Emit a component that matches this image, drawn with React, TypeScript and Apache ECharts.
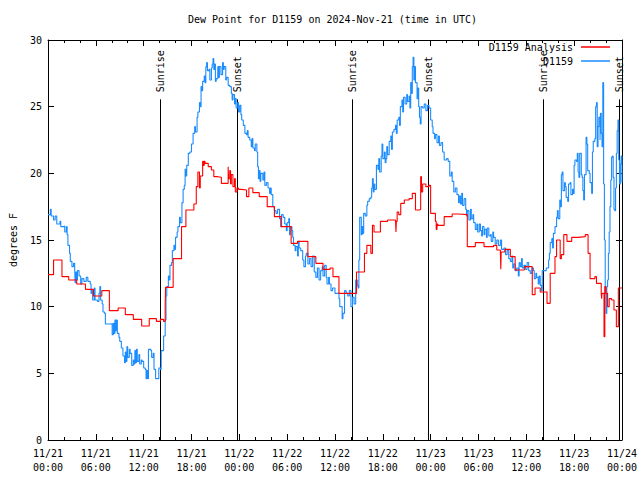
import React, { useEffect, useRef } from "react";
import * as echarts from "echarts";

// hours since 2024-11-21 00:00 UTC
const xTickLabels = [
  "11/21\n00:00", "11/21\n06:00", "11/21\n12:00", "11/21\n18:00",
  "11/22\n00:00", "11/22\n06:00", "11/22\n12:00", "11/22\n18:00",
  "11/23\n00:00", "11/23\n06:00", "11/23\n12:00", "11/23\n18:00",
  "11/24\n00:00",
];

const sunTimes = [14.04, 23.66, 38.09, 47.66, 62.04, 71.59];
const sunLabels = ["Sunrise", "Sunset", "Sunrise", "Sunset", "Sunrise", "Sunset"];
const sunLineTop = 25.55;

const analysis: number[][] = [
  [0, 12.4], [0.7, 13.5], [1.75, 12.25], [2.6, 12.0], [3.6, 11.7], [4.7, 11.3],
  [5.7, 10.8], [6.75, 11.2], [7.7, 9.7], [8.8, 9.9], [9.7, 9.4], [10.7, 9.05],
  [11.75, 8.55], [12.7, 9.1], [13.6, 8.9], [14.1, 9.05], [14.5, 8.9], [14.7, 10.2],
  [14.75, 11.45], [15.7, 13.6], [16.75, 16.0], [17.3, 17.25], [18.3, 17.7],
  [18.6, 19.0], [18.8, 20.1], [19.0, 18.9], [19.1, 19.8], [19.4, 20.9], [19.5, 20.6],
  [19.6, 20.9], [19.7, 20.75], [20.1, 20.5], [20.5, 20.25], [20.8, 19.75],
  [21.3, 19.7], [21.75, 19.25], [22.6, 20.5], [22.65, 19.6], [22.8, 20.2],
  [22.9, 19.2], [23.0, 19.9], [23.2, 19.0], [23.4, 19.6], [23.5, 18.6], [23.7, 18.9],
  [23.9, 18.8], [24.25, 18.75], [24.9, 18.25], [25.2, 18.9], [25.7, 18.55],
  [26.5, 18.25], [27.5, 17.5], [28.4, 16.75], [29.25, 16.0], [30.5, 14.75],
  [31.3, 14.9], [32.6, 13.75], [33.6, 13.25], [34.5, 12.8], [35.4, 12.9],
  [35.75, 12.25], [36.5, 11.0], [37.6, 11.0], [38.7, 12.6], [39.7, 14.0],
  [40.0, 14.6], [40.5, 14.0], [40.7, 16.1], [40.9, 15.6], [41.7, 16.4], [42.6, 16.5],
  [43.6, 16.4], [43.65, 15.6], [43.7, 16.4], [43.8, 17.1], [44.0, 16.9],
  [44.25, 17.75], [44.7, 18.0], [45.3, 18.1], [45.7, 18.5], [46.1, 17.25],
  [46.6, 17.3], [46.75, 19.75], [46.85, 18.6], [47.0, 19.2], [47.4, 19.0],
  [47.8, 19.1], [48.0, 17.0], [48.6, 16.4], [48.7, 15.8], [48.8, 16.2], [48.9, 16.1],
  [49.7, 16.75], [50.7, 16.95], [51.5, 16.9], [52.6, 14.5], [53.6, 14.8],
  [54.7, 14.5], [55.9, 14.6], [56.3, 14.25], [56.75, 14.1], [56.8, 12.8],
  [56.85, 14.1], [57.3, 14.3], [58.0, 13.75], [58.6, 12.75], [59.75, 13.0],
  [60.75, 10.9], [61.1, 11.4], [61.75, 11.1], [62.6, 10.25], [63.0, 12.5],
  [63.6, 13.75], [63.8, 15.0], [64.25, 13.6], [64.4, 13.9], [64.7, 15.4],
  [65.1, 14.9], [65.7, 15.2], [66.5, 15.25], [67.4, 15.4], [67.75, 14.0],
  [68.0, 12.1], [68.6, 12.25], [68.8, 11.75], [69.4, 11.0], [69.45, 10.6],
  [69.5, 11.0], [69.75, 7.75], [69.85, 11.5], [70.0, 11.0], [70.2, 10.0],
  [70.4, 10.6], [70.7, 10.5], [71.0, 9.75], [71.3, 8.5], [71.55, 11.4], [72.0, 11.4],
];

const observed: number[][] = [
  [0, 16.9], [0.3, 17.3], [0.4, 16.8], [0.7, 16.5], [0.9, 16.8], [1.1, 16.2], [1.5, 16.4],
  [1.6, 16.0], [2.0, 16.05], [2.1, 15.6], [2.3, 16.0], [2.4, 15.4], [2.5, 14.6], [2.7, 14.0],
  [2.8, 13.4], [3.0, 13.0], [3.2, 13.25], [3.35, 12.8], [3.4, 11.8], [3.5, 12.6], [3.6, 12.0],
  [3.7, 12.7], [3.9, 12.3], [4.1, 11.7], [4.25, 12.1], [4.5, 11.9], [4.8, 12.2], [5.0, 11.9],
  [5.3, 11.7], [5.4, 11.0], [5.5, 11.2], [5.6, 10.5], [5.8, 11.4], [5.9, 10.5], [6.2, 10.4],
  [6.4, 11.0], [6.5, 11.5], [6.6, 10.5], [6.8, 10.2], [6.9, 9.6], [7.1, 9.5], [7.2, 8.7],
  [7.6, 8.7], [8.0, 8.75], [8.05, 7.9], [8.2, 8.75], [8.3, 8.0], [8.4, 9.0], [8.5, 8.2],
  [8.6, 9.0], [8.7, 8.0], [8.9, 7.7], [9.0, 7.4], [9.2, 6.9], [9.4, 6.3], [9.6, 5.8],
  [9.7, 6.6], [9.8, 5.9], [9.9, 7.0], [10.0, 6.2], [10.2, 6.8], [10.3, 6.5], [10.5, 5.6],
  [10.7, 6.0], [10.8, 5.7], [10.9, 6.7], [11.0, 5.8], [11.1, 6.8], [11.2, 5.9], [11.4, 6.4],
  [11.5, 5.7], [11.7, 6.0], [11.8, 5.9], [12.0, 5.4], [12.2, 5.3], [12.3, 4.6], [12.4, 5.2],
  [12.5, 4.6], [12.6, 6.8], [12.9, 6.7], [13.0, 6.2], [13.2, 6.5], [13.3, 5.3], [13.5, 4.6],
  [13.8, 4.6], [13.9, 5.4], [14.1, 5.3], [14.2, 6.7], [14.5, 7.8], [14.7, 9.0], [14.8, 10.8],
  [14.9, 11.5], [15.1, 12.3], [15.2, 12.0], [15.3, 13.1], [15.5, 13.3], [15.6, 14.2],
  [15.8, 14.6], [15.9, 14.3], [16.0, 15.2], [16.2, 15.6], [16.3, 16.0], [16.5, 16.7],
  [16.6, 16.3], [16.8, 17.8], [16.95, 18.8], [17.1, 19.1], [17.2, 20.3], [17.3, 19.8],
  [17.4, 20.6], [17.6, 21.5], [17.8, 21.6], [18.0, 22.2], [18.2, 23.0], [18.4, 23.5],
  [18.5, 23.1], [18.7, 24.2], [18.8, 24.6], [19.0, 25.3], [19.1, 25.0], [19.2, 26.5],
  [19.3, 26.2], [19.4, 26.9], [19.6, 27.3], [19.7, 26.8], [19.8, 28.0], [19.9, 28.3],
  [20.0, 27.7], [20.2, 27.8], [20.3, 27.0], [20.5, 27.9], [20.6, 28.2], [20.7, 28.6],
  [20.8, 27.8], [20.9, 28.2], [21.0, 26.9], [21.1, 27.1], [21.3, 28.0], [21.4, 27.2],
  [21.5, 28.0], [21.7, 27.4], [21.9, 28.3], [22.0, 27.8], [22.1, 28.0], [22.3, 27.0],
  [22.4, 27.2], [22.6, 26.6], [22.8, 26.5], [23.0, 26.0], [23.1, 25.5], [23.2, 25.9],
  [23.4, 25.2], [23.5, 25.6], [23.6, 24.9], [23.8, 25.3], [23.9, 24.6], [24.05, 25.1],
  [24.2, 24.4], [24.3, 24.0], [24.5, 23.6], [24.7, 23.0], [24.9, 22.9], [25.0, 23.2],
  [25.1, 22.7], [25.3, 22.5], [25.5, 22.0], [25.6, 22.6], [25.7, 21.9], [25.9, 21.7],
  [26.0, 22.2], [26.2, 21.6], [26.3, 20.5], [26.4, 19.6], [26.5, 20.2], [26.6, 19.4],
  [26.7, 20.0], [26.95, 19.5], [27.1, 20.1], [27.2, 19.1], [27.4, 19.3], [27.6, 18.9],
  [27.8, 18.5], [27.9, 18.9], [28.0, 18.4], [28.2, 17.5], [28.4, 17.2], [28.6, 17.0],
  [28.8, 17.3], [29.05, 16.6], [29.2, 16.0], [29.3, 16.9], [29.5, 16.7], [29.7, 16.2],
  [29.9, 15.7], [30.0, 16.3], [30.2, 16.6], [30.3, 15.4], [30.4, 16.0], [30.6, 15.7],
  [30.7, 15.2], [30.8, 14.6], [31.0, 14.2], [31.1, 14.5], [31.3, 13.8], [31.4, 14.9],
  [31.5, 14.4], [31.7, 14.2], [31.95, 13.5], [32.1, 13.0], [32.3, 13.8], [32.4, 14.0],
  [32.6, 13.2], [32.8, 13.6], [33.0, 13.0], [33.2, 13.8], [33.4, 12.6], [33.6, 12.2],
  [33.8, 12.9], [34.0, 12.0], [34.2, 12.7], [34.4, 13.0], [34.5, 12.3], [34.7, 13.1],
  [34.9, 12.2], [35.0, 11.7], [35.2, 12.2], [35.3, 11.7], [35.5, 11.2], [35.7, 11.4],
  [36.0, 11.0], [36.4, 11.0], [36.5, 10.6], [36.6, 10.0], [36.75, 10.0], [36.9, 9.1],
  [37.0, 9.5], [37.2, 11.2], [37.4, 11.0], [37.6, 10.8], [37.8, 11.2], [38.0, 10.0],
  [38.2, 10.7], [38.4, 10.2], [38.6, 12.0], [38.8, 11.6], [38.9, 11.4], [39.0, 13.5],
  [39.1, 16.7], [39.3, 15.4], [39.4, 16.0], [39.5, 15.5], [39.6, 17.0], [39.8, 16.8],
  [40.0, 17.6], [40.1, 17.9], [40.3, 18.1], [40.5, 18.2], [40.6, 18.9], [40.7, 19.6],
  [40.8, 18.6], [40.9, 19.2], [41.0, 18.8], [41.2, 20.6], [41.4, 20.3], [41.5, 21.1],
  [41.6, 20.1], [41.8, 21.3], [41.9, 22.2], [42.0, 21.1], [42.2, 21.6], [42.3, 20.8],
  [42.4, 21.1], [42.5, 22.0], [42.6, 21.4], [42.8, 22.4], [43.0, 22.8], [43.1, 21.8],
  [43.2, 23.1], [43.4, 23.3], [43.6, 23.6], [43.7, 23.0], [43.8, 24.0], [44.0, 24.2],
  [44.1, 23.6], [44.2, 25.0], [44.4, 25.5], [44.5, 24.6], [44.6, 25.7], [44.8, 25.2],
  [45.0, 25.9], [45.1, 25.4], [45.3, 25.8], [45.4, 24.9], [45.5, 26.8], [45.6, 26.0],
  [45.7, 28.0], [45.8, 28.7], [45.9, 27.0], [46.0, 28.0], [46.1, 26.8], [46.3, 25.6],
  [46.4, 26.4], [46.5, 25.0], [46.6, 24.2], [46.7, 23.7], [46.8, 25.0], [47.0, 24.9],
  [47.2, 25.2], [47.4, 24.7], [47.6, 25.1], [47.8, 24.9], [48.0, 24.0], [48.2, 23.5],
  [48.3, 23.0], [48.5, 22.6], [48.6, 22.9], [48.8, 22.3], [49.0, 22.8], [49.1, 22.1],
  [49.3, 22.3], [49.5, 21.6], [49.7, 21.0], [50.0, 21.1], [50.2, 20.9], [50.4, 19.8],
  [50.6, 20.1], [50.7, 19.4], [50.9, 18.6], [51.1, 18.9], [51.3, 18.4], [51.5, 17.8],
  [51.6, 18.3], [51.75, 17.7], [51.9, 18.5], [52.0, 17.6], [52.2, 18.1], [52.4, 17.3],
  [52.5, 16.8], [52.6, 17.2], [52.8, 16.5], [53.0, 17.3], [53.1, 16.6], [53.3, 16.9],
  [53.4, 16.3], [53.6, 15.8], [53.8, 16.2], [53.9, 15.6], [54.1, 16.2], [54.25, 15.7],
  [54.4, 15.3], [54.5, 16.0], [54.7, 15.4], [54.8, 15.8], [55.0, 15.2], [55.1, 15.9],
  [55.3, 15.3], [55.5, 15.4], [55.6, 14.9], [55.8, 15.6], [55.9, 15.2], [56.1, 14.7],
  [56.3, 15.0], [56.5, 14.6], [56.75, 15.0], [56.9, 14.3], [57.2, 14.4], [57.4, 13.9],
  [57.6, 14.2], [57.8, 13.6], [58.0, 13.4], [58.2, 13.8], [58.3, 12.9], [58.4, 13.2],
  [58.6, 12.7], [58.8, 12.9], [59.0, 12.3], [59.1, 13.3], [59.25, 13.0], [59.4, 13.6],
  [59.5, 12.9], [59.7, 13.1], [59.9, 12.8], [60.1, 13.3], [60.3, 12.7], [60.5, 12.5],
  [60.7, 12.9], [60.9, 12.7], [61.0, 12.1], [61.2, 12.5], [61.3, 12.2], [61.5, 11.7],
  [61.6, 12.3], [61.75, 11.6], [61.9, 11.2], [62.0, 12.7], [62.4, 12.7], [62.5, 12.9],
  [62.8, 13.5], [62.9, 14.0], [63.0, 14.8], [63.2, 15.1], [63.3, 14.4], [63.4, 15.5],
  [63.6, 16.0], [63.8, 16.7], [63.9, 17.2], [64.0, 16.6], [64.2, 18.0], [64.3, 17.5],
  [64.4, 19.9], [64.5, 20.1], [64.6, 18.7], [64.8, 19.3], [64.9, 19.0], [65.0, 18.2],
  [65.2, 17.9], [65.3, 19.2], [65.5, 19.3], [65.6, 18.4], [65.8, 18.8], [65.9, 18.5],
  [66.0, 20.6], [66.1, 21.0], [66.3, 20.9], [66.4, 21.5], [66.5, 20.1], [66.6, 19.7],
  [66.7, 21.5], [66.9, 19.9], [67.0, 19.7], [67.1, 18.7], [67.2, 18.0], [67.3, 19.9],
  [67.5, 22.7], [67.6, 22.2], [67.7, 20.2], [67.9, 20.0], [68.0, 19.3], [68.2, 18.5],
  [68.3, 21.6], [68.4, 22.4], [68.6, 22.6], [68.7, 25.0], [68.8, 25.3], [68.9, 22.0],
  [69.0, 23.5], [69.1, 24.2], [69.25, 22.5], [69.3, 24.5], [69.4, 23.0], [69.5, 22.0],
  [69.6, 26.8], [69.7, 19.2], [69.8, 15.0], [69.9, 11.0], [70.0, 9.5], [70.1, 11.5],
  [70.2, 12.0], [70.3, 14.0], [70.4, 15.6], [70.5, 17.5], [70.6, 19.5], [70.7, 21.2],
  [70.8, 21.3], [70.9, 19.7], [71.0, 17.3], [71.1, 17.2], [71.2, 18.9], [71.3, 21.5],
  [71.4, 23.2], [71.5, 24.0], [71.6, 21.0], [71.7, 19.2], [71.8, 20.7], [71.9, 21.3],
  [72.0, 19.3],
];

const FONT = "DejaVu Sans Mono";

export default function App() {
  const ref = useRef<HTMLDivElement>(null);
  useEffect(() => {
    if (!ref.current) return;
    const chart = echarts.init(ref.current, null, { renderer: "svg" });
    const axisCommon = {
      type: "value" as const,
      axisLine: { show: true, onZero: false, lineStyle: { color: "#000", width: 1 } },
      splitLine: { show: false },
    };
    const legendCommon = {
      orient: "vertical" as const,
      align: "right" as const,
      right: 30,
      padding: 0,
      icon: "rect",
      itemWidth: 29,
      itemHeight: 1.5,
      textStyle: { fontFamily: FONT, fontSize: 10, color: "#000", padding: [0, 3, 0, 0] },
    };
    chart.setOption({
      animation: false,
      backgroundColor: "#fff",
      title: {
        text: "Dew Point for D1159 on 2024-Nov-21 (time in UTC)",
        left: 188,
        top: 14,
        padding: 0,
        textStyle: { fontFamily: FONT, fontSize: 10, fontWeight: "normal", color: "#000" },
      },
      legend: [
        { ...legendCommon, data: ["D1159 Analysis"], top: 42 },
        { ...legendCommon, data: ["D1159"], top: 56 },
      ],
      grid: { left: 46, right: 18, top: 40, bottom: 40, containLabel: false },
      xAxis: [
        {
          ...axisCommon,
          position: "bottom",
          min: 0,
          max: 72,
          interval: 6,
          axisTick: { show: true, inside: true, length: 6, lineStyle: { color: "#000" } },
          minorTick: { show: true, splitNumber: 3, length: 3, lineStyle: { color: "#000" } },
          axisLabel: {
            fontFamily: FONT,
            fontSize: 10,
            color: "#000",
            lineHeight: 14,
            margin: 6,
            formatter: (v: number) => xTickLabels[Math.round(v / 6)] ?? "",
          },
        },
        {
          ...axisCommon,
          position: "top",
          min: 0,
          max: 72,
          interval: 6,
          axisTick: { show: true, inside: true, length: 6, lineStyle: { color: "#000" } },
          minorTick: { show: true, splitNumber: 3, length: 3, lineStyle: { color: "#000" } },
          axisLabel: { show: false },
        },
      ],
      yAxis: [
        {
          ...axisCommon,
          position: "left",
          min: 0,
          max: 30,
          interval: 5,
          name: "degrees F",
          nameLocation: "middle",
          nameGap: 30,
          nameTextStyle: { fontFamily: FONT, fontSize: 10, color: "#000" },
          axisTick: { show: true, inside: true, length: 6, lineStyle: { color: "#000" } },
          axisLabel: { fontFamily: FONT, fontSize: 10, color: "#000", margin: 6 },
        },
        {
          ...axisCommon,
          position: "right",
          min: 0,
          max: 30,
          interval: 5,
          axisTick: { show: true, inside: true, length: 6, lineStyle: { color: "#000" } },
          axisLabel: { show: false },
        },
      ],
      series: [
        {
          type: "custom",
          name: "sun",
          silent: true,
          z: 1,
          data: sunTimes.map((t) => [t, 0]),
          encode: { x: 0, y: 1 },
          renderItem: (params: any, api: any) => {
            const t = api.value(0);
            const p0 = api.coord([t, 0]);
            const p1 = api.coord([t, sunLineTop]);
            const x = Math.round(p0[0]) + 0.5;
            return {
              type: "group",
              children: [
                {
                  type: "line",
                  shape: { x1: x, y1: p0[1], x2: x, y2: p1[1] },
                  style: { stroke: "#000", lineWidth: 1 },
                },
                {
                  type: "text",
                  x: x,
                  y: p1[1] - 7,
                  rotation: Math.PI / 2,
                  style: {
                    text: sunLabels[params.dataIndex],
                    fill: "#000",
                    font: `10px "${FONT}"`,
                    align: "left",
                    verticalAlign: "middle",
                  },
                },
              ],
            };
          },
        },
        {
          type: "line",
          name: "D1159 Analysis",
          data: analysis,
          step: "end",
          showSymbol: false,
          z: 3,
          lineStyle: { color: "#ff0000", width: 1.1 },
          itemStyle: { color: "#ff0000" },
        },
        {
          type: "line",
          name: "D1159",
          data: observed,
          step: "end",
          showSymbol: false,
          z: 2,
          lineStyle: { color: "#1a8cff", width: 1.1 },
          itemStyle: { color: "#1a8cff" },
        },
      ],
    });
    return () => chart.dispose();
  }, []);
  return (
    <div
      ref={ref}
      style={{ position: "fixed", left: 0, top: 0, width: 640, height: 480, background: "#fff" }}
    />
  );
}
